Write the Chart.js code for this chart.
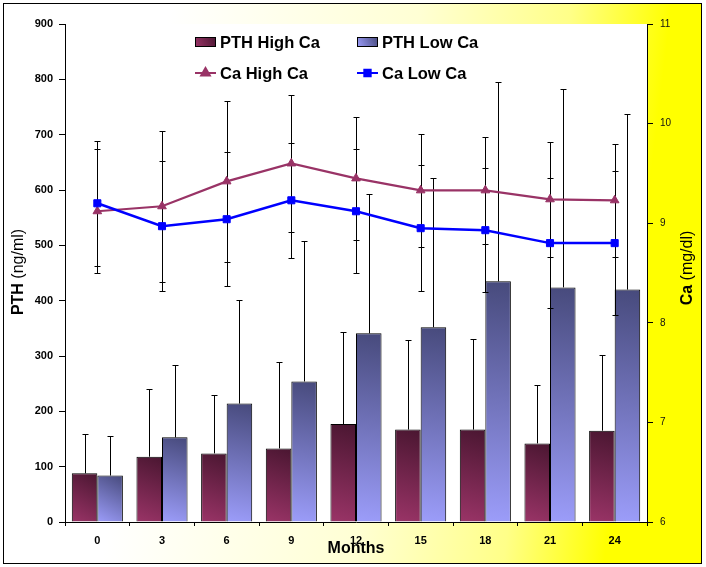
<!DOCTYPE html>
<html>
<head>
<meta charset="utf-8">
<script src="https://cdn.jsdelivr.net/npm/chart.js@4"></script>
<style>
  html, body { margin: 0; padding: 0; background: #fff; }
  #wrap { width: 706px; height: 567px; }
</style>
</head>
<body>
<div id="wrap"><canvas id="chart" width="706" height="567"></canvas></div>
<script>
// values
const months = ['0', '3', '6', '9', '12', '15', '18', '21', '24'];
const pthHigh = [88, 118, 124, 133, 177, 167, 167, 142, 165];
const pthHighSd = [71, 122, 105, 157, 166, 162, 163, 106, 137];
const pthLow = [84, 153, 214, 254, 341, 352, 435, 424, 420];
const pthLowSd = [72, 131, 187, 253, 252, 269, 361, 358, 318];
const caHigh = [9.12, 9.17, 9.42, 9.60, 9.45, 9.33, 9.33, 9.24, 9.23];
const caHighSd = [0.62, 0.76, 0.81, 0.69, 0.62, 0.57, 0.54, 0.58, 0.57];
const caLow = [9.20, 8.97, 9.04, 9.23, 9.12, 8.95, 8.93, 8.80, 8.80];
const caLowSd = [0.63, 0.65, 0.67, 0.58, 0.62, 0.63, 0.62, 0.65, 0.72];
const pthRange = [0, 900, 100];
const caRange = [6, 11, 1];

const FONT = 'Arial, "Liberation Sans", sans-serif';
const HIGH_COL = ['#4a1631', '#9a3467'];
const LOW_COL = ['#474a7c', '#9c9dfa'];
const CA_HIGH = '#993366';
const CA_LOW = '#0000ff';

// per-bar diagonal gradient, dark at top right, light at bottom left
function barFill(cols, side) {
  return (c) => {
    const chart = c.chart;
    if (c.type !== 'data' || !chart.chartArea || !chart.scales.x) return cols[1];
    const xs = chart.scales.x, ys = chart.scales.y;
    const step = xs.getPixelForValue(1) - xs.getPixelForValue(0);
    const bw = step * 0.79 / 2;
    const xc = xs.getPixelForValue(c.dataIndex) + side * bw / 2;
    const top = ys.getPixelForValue(c.raw);
    const base = ys.getPixelForValue(0);
    const g = chart.ctx.createLinearGradient(xc + bw / 2, top, xc - bw / 2, base);
    g.addColorStop(0, cols[0]);
    g.addColorStop(1, cols[1]);
    return g;
  };
}

function boxFill(ctx, cols, x, y, w, h) {
  const g = ctx.createLinearGradient(x + w, y, x, y + h);
  g.addColorStop(0, cols[0]);
  g.addColorStop(1, cols[1]);
  return g;
}

function vLine(ctx, x, y0, y1) {
  ctx.beginPath();
  ctx.moveTo(x, y0);
  ctx.lineTo(x, y1);
  ctx.stroke();
}
function cap(ctx, x, y) {
  ctx.beginPath();
  ctx.moveTo(x - 3, y);
  ctx.lineTo(x + 3, y);
  ctx.stroke();
}

const errorBars = {
  id: 'errorBars',
  afterDatasetDraw(chart, args) {
    if (args.index !== 0) return; // PTH High is the last bar set drawn
    const ctx = chart.ctx;
    const y = chart.scales.y, y1 = chart.scales.y1, xs = chart.scales.x;
    ctx.save();
    ctx.strokeStyle = '#000';
    ctx.lineWidth = 1;
    [[0, pthHigh, pthHighSd], [1, pthLow, pthLowSd]].forEach(([di, vals, sd]) => {
      chart.getDatasetMeta(di).data.forEach((bar, i) => {
        const x = Math.round(bar.x) + 0.5;
        const top = y.getPixelForValue(vals[i]);
        const end = Math.round(y.getPixelForValue(vals[i] + sd[i])) + 0.5;
        vLine(ctx, x, top, end);
        cap(ctx, x, end);
      });
    });
    [[caHigh, caHighSd], [caLow, caLowSd]].forEach(([vals, sd]) => {
      vals.forEach((v, i) => {
        const x = Math.round(xs.getPixelForValue(i)) + 0.5;
        const a = Math.round(y1.getPixelForValue(v + sd[i])) + 0.5;
        const b = Math.round(y1.getPixelForValue(v - sd[i])) + 0.5;
        vLine(ctx, x, a, b);
        cap(ctx, x, a);
        cap(ctx, x, b);
      });
    });
    ctx.restore();
  }
};

function rotatedTitle(ctx, cx, cy, parts) {
  ctx.save();
  ctx.translate(cx, cy);
  ctx.rotate(-Math.PI / 2);
  ctx.textBaseline = 'middle';
  ctx.textAlign = 'left';
  let total = 0;
  parts.forEach(p => { ctx.font = p[1]; total += ctx.measureText(p[0]).width; });
  let x = -total / 2;
  parts.forEach(p => {
    ctx.font = p[1];
    ctx.fillStyle = '#000';
    ctx.fillText(p[0], x, 0);
    x += ctx.measureText(p[0]).width;
  });
  ctx.restore();
}

const frame = {
  id: 'frame',
  beforeDraw(chart) {
    const { ctx, chartArea: a, width, height } = chart;
    ctx.save();
    ctx.fillStyle = '#fff';
    ctx.fillRect(0, 0, width, height);
    const g = ctx.createLinearGradient(170, 0, 665, 60);
    g.addColorStop(0, '#ffffff');
    g.addColorStop(0.5, '#ffffd4');
    g.addColorStop(0.8, '#ffff88');
    g.addColorStop(1, '#ffff00');
    ctx.fillStyle = g;
    ctx.fillRect(3, 3, 698, 560);
    ctx.fillStyle = '#fff';
    ctx.fillRect(a.left, a.top, a.right - a.left, a.bottom - a.top);
    ctx.strokeStyle = '#000';
    ctx.lineWidth = 1;
    ctx.strokeRect(3.5, 3.5, 698, 560);
    ctx.restore();
  },
  afterDraw(chart) {
    const ctx = chart.ctx;
    // axis titles
    rotatedTitle(ctx, 18.5, 272, [['PTH', 'bold 16px ' + FONT], [' (ng/ml)', '16px ' + FONT]]);
    rotatedTitle(ctx, 688, 268, [['Ca', 'bold 16px ' + FONT], [' (mg/dl)', '16px ' + FONT]]);
    // legend, two rows of two
    const items = [
      { label: 'PTH High Ca', x: 195, y: 42, bar: HIGH_COL },
      { label: 'PTH Low Ca', x: 357, y: 42, bar: LOW_COL },
      { label: 'Ca High Ca', x: 195, y: 73, line: CA_HIGH, style: 'triangle' },
      { label: 'Ca Low Ca', x: 357, y: 73, line: CA_LOW, style: 'rect' }
    ];
    ctx.save();
    items.forEach(it => {
      if (it.bar) {
        ctx.fillStyle = boxFill(ctx, it.bar, it.x, it.y - 5, 21, 9);
        ctx.fillRect(it.x, it.y - 5, 21, 9);
        ctx.strokeStyle = '#000';
        ctx.lineWidth = 1;
        ctx.strokeRect(it.x + 0.5, it.y - 4.5, 20, 9);
      } else {
        ctx.strokeStyle = it.line;
        ctx.lineWidth = 2;
        ctx.beginPath();
        ctx.moveTo(it.x, it.y);
        ctx.lineTo(it.x + 21, it.y);
        ctx.stroke();
        ctx.fillStyle = it.line;
        Chart.helpers.drawPoint(ctx, { pointStyle: it.style, radius: it.style === 'rect' ? 4.5 : 5, borderWidth: 1 }, it.x + 10.5, it.y);
        ctx.fill();
      }
      ctx.fillStyle = '#000';
      ctx.font = 'bold 16.5px ' + FONT;
      ctx.textBaseline = 'middle';
      ctx.textAlign = 'left';
      ctx.fillText(it.label, it.x + 25, it.y + 1);
    });
    ctx.restore();
  }
};

new Chart(document.getElementById('chart'), {
  data: {
    labels: months,
    datasets: [
      {
        type: 'bar', label: 'PTH High Ca', data: pthHigh, yAxisID: 'y', order: 3,
        backgroundColor: barFill(HIGH_COL, -1), borderColor: '#000', borderWidth: 1,
        categoryPercentage: 0.79, barPercentage: 1.0
      },
      {
        type: 'bar', label: 'PTH Low Ca', data: pthLow, yAxisID: 'y', order: 4,
        backgroundColor: barFill(LOW_COL, 1), borderColor: '#000', borderWidth: 1,
        categoryPercentage: 0.79, barPercentage: 1.0
      },
      {
        type: 'line', label: 'Ca High Ca', data: caHigh, yAxisID: 'y1', order: 2,
        borderColor: CA_HIGH, backgroundColor: CA_HIGH, borderWidth: 2.2,
        pointStyle: 'triangle', pointRadius: 5, pointBorderWidth: 1, tension: 0
      },
      {
        type: 'line', label: 'Ca Low Ca', data: caLow, yAxisID: 'y1', order: 1,
        borderColor: CA_LOW, backgroundColor: CA_LOW, borderWidth: 2.5,
        pointStyle: 'rect', pointRadius: 5, pointBorderWidth: 1, tension: 0
      }
    ]
  },
  options: {
    responsive: false,
    animation: false,
    devicePixelRatio: 1,
    layout: { padding: { top: 24, left: 0, right: 0, bottom: 0 } },
    plugins: { legend: { display: false }, tooltip: { enabled: false } },
    scales: {
      x: {
        offset: true,
        grid: { display: true, drawOnChartArea: false, drawTicks: true, tickLength: 4, color: '#000', offset: true },
        border: { display: true, color: '#000', width: 1 },
        ticks: { color: '#000', font: { family: FONT, size: 11, weight: 'bold' }, padding: 8, maxRotation: 0 },
        title: { display: true, text: 'Months', color: '#000', font: { family: FONT, size: 16, weight: 'bold' }, padding: { top: 0, bottom: 9 } },
        afterFit: s => { s.height = 45; }
      },
      y: {
        position: 'left', min: pthRange[0], max: pthRange[1],
        grid: { drawOnChartArea: false, drawTicks: true, tickLength: 6, color: '#000' },
        border: { display: true, color: '#000', width: 1 },
        ticks: { stepSize: pthRange[2], color: '#000', font: { family: FONT, size: 11, weight: 'bold' }, padding: 6 },
        afterFit: s => { s.width = 65; }
      },
      y1: {
        position: 'right', min: caRange[0], max: caRange[1],
        grid: { drawOnChartArea: false, drawTicks: true, tickLength: 6, color: '#000' },
        border: { display: true, color: '#000', width: 1 },
        ticks: { stepSize: caRange[2], color: '#111', font: { family: FONT, size: 10 }, padding: 7 },
        afterFit: s => { s.width = 59; }
      }
    }
  },
  plugins: [frame, errorBars]
});
</script>
</body>
</html>
